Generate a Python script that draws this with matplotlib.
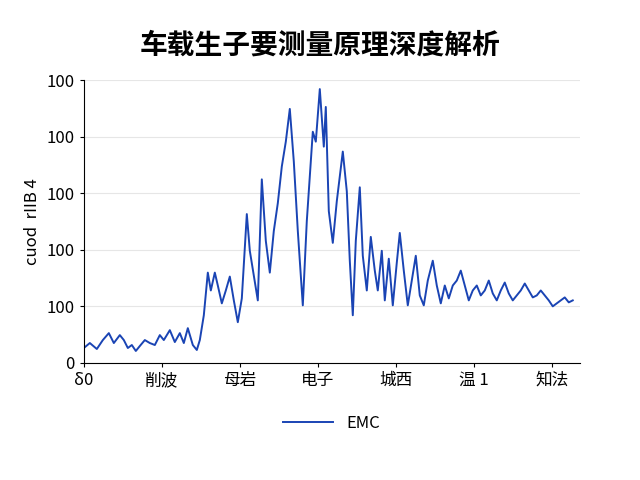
import matplotlib
matplotlib.use("Agg")
import matplotlib.pyplot as plt
import numpy as np

plt.rcParams['font.family'] = ['Noto Sans CJK SC', 'DejaVu Sans']

px = [84,90,97,103,109,114,120,124,128,132,136,140,145,150,155,160,164,170,175,180,184,188,193,197,200,204,208,211,215,218,222,226,230,234,238,242,247,250,254,258,262,266,270,274,278,282,286,290,294,298,303,307,310,313,316,320,324,326,329,333,337,340,343,347,350,353,356,360,363,367,371,375,378,382,385,389,393,397,400,404,408,412,416,420,424,428,433,437,441,445,449,453,457,461,465,469,473,477,481,485,489,493,497,501,505,509,513,517,521,525,529,533,537,541,545,549,553,557,561,565,569,573]
py = [348,343,349,340,333,343,335,340,348,345,351,346,340,343,345,335,340,330,342,333,343,328,345,350,340,315,272,290,272,285,303,290,276,300,322,298,213,250,275,300,178,240,272,230,202,165,140,107,160,230,305,220,175,130,140,87,145,105,210,242,200,175,150,190,260,315,240,186,255,290,236,270,290,250,300,258,305,262,232,270,305,280,255,295,305,280,260,285,303,285,298,285,280,270,285,300,290,285,295,290,280,293,300,290,282,293,300,295,290,283,290,297,295,290,295,300,306,303,300,297,302,300]
x = [(p - 84) / 78 for p in px]
y = [(363 - q) / 57 for q in py]

xticklabels = ["δ0", "削波", "母岩", "电子", "城西", "温 1", "知法"]
yticklabels = ["0", "100", "100", "100", "100", "100"]

fig = plt.figure(figsize=(6.4, 4.8), dpi=100)
ax = fig.add_axes([0.131, 0.244, 0.775, 0.589])
ax.plot(x, y, color="#1a44b4", lw=1.4, label="EMC")
ax.set_xlim(0, 6.36)
ax.set_ylim(0, 5)
ax.set_xticks(range(7))
ax.set_xticklabels(xticklabels, fontsize=12)
ax.set_yticks(range(6))
ax.set_yticklabels(yticklabels, fontsize=12)
ax.set_ylabel("cuod  rIIB 4", fontsize=12)
ax.yaxis.grid(True, color="#e6e6e6", lw=0.8)
for s in ["top", "right"]:
    ax.spines[s].set_visible(False)
ax.tick_params(length=3)
fig.suptitle("车载生子要测量原理深度解析", fontsize=20, fontweight="bold", y=0.935)
ax.legend(loc="upper center", bbox_to_anchor=(0.5, -0.13), frameon=False, fontsize=12, handlelength=3)
fig.savefig("out.png", dpi=100)
